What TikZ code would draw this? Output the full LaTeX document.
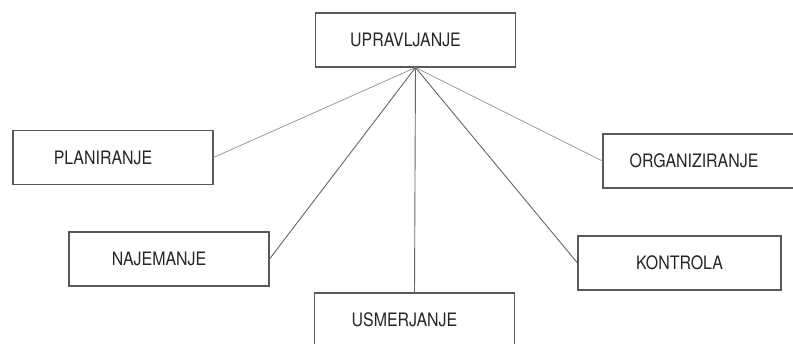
\documentclass[tikz,border=0pt]{standalone}
\usepackage{fontspec}
\setmainfont[FakeStretch=0.86]{TeX Gyre Heros}
\usepackage{tikz}
\usetikzlibrary{positioning}
\usepackage{xcolor}

\begin{document}
\begin{tikzpicture}[x=1pt, y=-1pt, font=\fontsize{18.5}{20}\selectfont,
    plainbox/.style={draw=black!65, line width=1.1pt, text=black!85,
      minimum width=200pt, minimum height=54pt, inner sep=0pt},
    box/.style={plainbox, execute at end node=\hspace*{20pt}},
    link/.style={draw=black!60, line width=0.9pt},
    faint/.style={draw=black!40, line width=0.8pt}]
\useasboundingbox (0,0) rectangle (793,343);
\node[box] (upr) at (415.5,40) {UPRAVLJANJE};
\node[box] (plan) at (113,157.5) {PLANIRANJE};
\node[box, minimum width=202pt] (org) at (704,161) {ORGANIZIRANJE};
\node[box] (naj) at (169,259) {NAJEMANJE};
\node[plainbox, minimum width=203pt] (kon) at (679.5,263) {KONTROLA};
\node[box] (usm) at (414.5,320) {USMERJANJE};
\draw[faint] (upr.south) -- (plan.east);
\draw[faint] (upr.south) -- (org.west);
\draw[link] (upr.south) -- (naj.east);
\draw[link] (upr.south) -- (kon.west);
\draw[link] (upr.south) -- (usm.north);
\end{tikzpicture}
\end{document}
